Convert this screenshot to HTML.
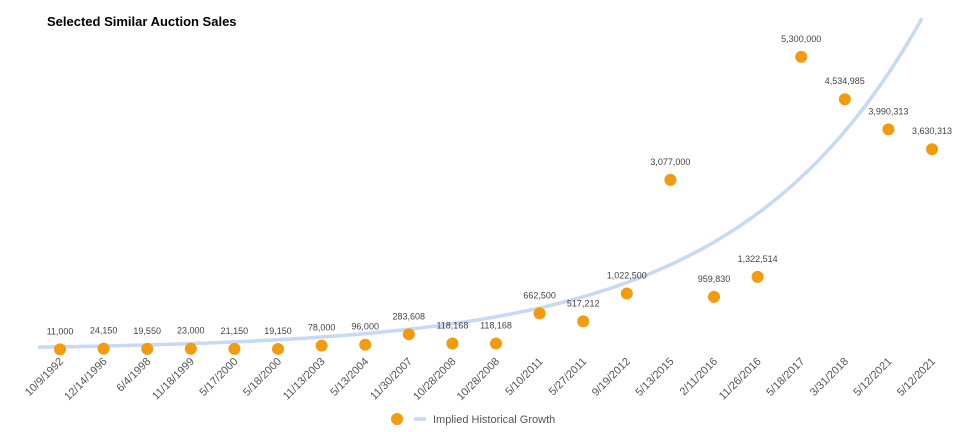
<!DOCTYPE html>
<html><head><meta charset="utf-8"><style>
body{margin:0;background:#fff;}
svg{display:block;font-family:"Liberation Sans",Arial,sans-serif;}
</style></head><body>
<svg width="961" height="432" viewBox="0 0 961 432" xmlns="http://www.w3.org/2000/svg">
<text x="47" y="26" font-size="13" font-weight="bold" fill="#000">Selected Similar Auction Sales</text>
<path id="curve" fill="none" stroke="#c6d9f5" stroke-width="3.5" d=""/>
<g id="pts"></g>
<g id="xl" font-size="11" fill="#555"></g>
<circle cx="397" cy="419" r="6" fill="#f29b0c"/>
<line x1="414" y1="419" x2="426" y2="419" stroke="#c6d9f5" stroke-width="3.5"/>
<text x="433" y="423" font-size="11" fill="#555">Implied Historical Growth</text>
<script>
var d=[["10/9/1992",11000],["12/14/1996",24150],["6/4/1998",19550],["11/18/1999",23000],["5/17/2000",21150],["5/18/2000",19150],["11/13/2003",78000],["5/13/2004",96000],["11/30/2007",283608],["10/28/2008",118168],["10/28/2008",118168],["5/10/2011",662500],["5/27/2011",517212],["9/19/2012",1022500],["5/13/2015",3077000],["2/11/2016",959830],["11/26/2016",1322514],["5/18/2017",5300000],["3/31/2018",4534985],["5/12/2021",3990313],["5/12/2021",3630313]];
var ns="http://www.w3.org/2000/svg",g=document.getElementById("pts"),xl=document.getElementById("xl");
function Y(v){return 350-55.3*v/1e6;}
d.forEach(function(p,i){var x=60+i*43.6,y=Y(p[1]);
var c=document.createElementNS(ns,"circle");c.setAttribute("cx",x);c.setAttribute("cy",y);c.setAttribute("r",6);c.setAttribute("fill","#f29b0c");g.appendChild(c);
var t=document.createElementNS(ns,"text");t.setAttribute("x",x);t.setAttribute("y",y-15);t.setAttribute("text-anchor","middle");t.setAttribute("font-size","9");t.setAttribute("fill","#444");t.textContent=p[1].toLocaleString("en-US");g.appendChild(t);
var l=document.createElementNS(ns,"text");l.setAttribute("text-anchor","end");l.setAttribute("transform","translate("+(x+4)+",362) rotate(-45)");l.textContent=p[0];xl.appendChild(l);});
var s="";for(var x=38;x<=924;x+=4){var v=6e6*Math.exp(-0.0054*(922-x));s+=(x==38?"M":"L")+x+","+Y(v).toFixed(1);}
document.getElementById("curve").setAttribute("d",s);
</script>
</svg>
</body></html>
